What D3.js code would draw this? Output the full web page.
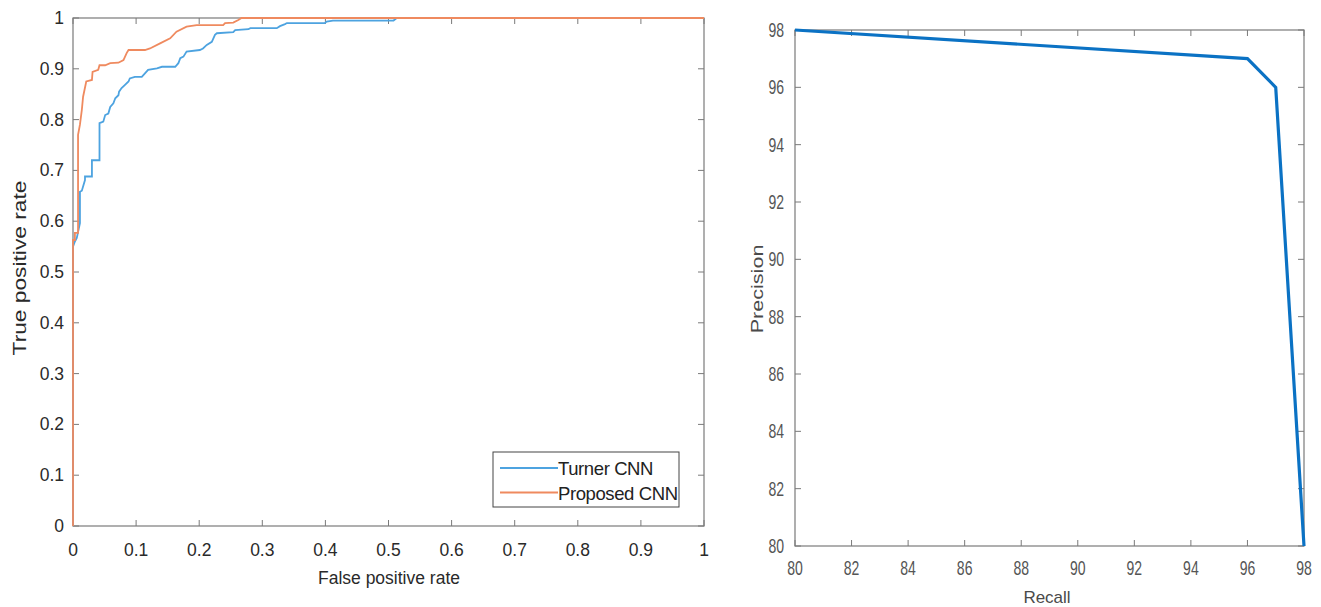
<!DOCTYPE html>
<html>
<head>
<meta charset="utf-8">
<script src="https://cdn.jsdelivr.net/npm/d3@7"></script>
<style>
  html, body { margin: 0; padding: 0; background: #fff; }
  svg { display: block; }
</style>
</head>
<body>
<svg id="chart" width="1321" height="607"></svg>
<script>
// ---------- DATA ----------
const rocTicks = [0, 0.1, 0.2, 0.3, 0.4, 0.5, 0.6, 0.7, 0.8, 0.9, 1];
const rocTickLabels = ["0", "0.1", "0.2", "0.3", "0.4", "0.5", "0.6", "0.7", "0.8", "0.9", "1"];
const seriesNames = ["Turner CNN", "Proposed CNN"];

// [false positive rate, true positive rate]
const turnerRoc = [
  [0, 0], [0, 0.55], [0.003, 0.56], [0.006, 0.567], [0.011, 0.596], [0.011, 0.658],
  [0.014, 0.66], [0.019, 0.681], [0.019, 0.688], [0.030, 0.688], [0.030, 0.72],
  [0.042, 0.72], [0.042, 0.793], [0.048, 0.796], [0.051, 0.809], [0.056, 0.812],
  [0.059, 0.825], [0.064, 0.832], [0.067, 0.842], [0.072, 0.848], [0.073, 0.855],
  [0.077, 0.862], [0.082, 0.868], [0.088, 0.875], [0.090, 0.881], [0.098, 0.884],
  [0.109, 0.884], [0.114, 0.891], [0.119, 0.898], [0.133, 0.901], [0.141, 0.904],
  [0.162, 0.904], [0.167, 0.911], [0.170, 0.921], [0.175, 0.924], [0.180, 0.934],
  [0.201, 0.937], [0.206, 0.940], [0.212, 0.947], [0.220, 0.953], [0.225, 0.967],
  [0.228, 0.970], [0.254, 0.972], [0.257, 0.976], [0.278, 0.978], [0.281, 0.980],
  [0.323, 0.980], [0.328, 0.984], [0.336, 0.988], [0.339, 0.990], [0.399, 0.990],
  [0.402, 0.993], [0.412, 0.995], [0.508, 0.995], [0.513, 1.0], [1, 1.0]
];
const proposedRoc = [
  [0, 0], [0, 0.563], [0.003, 0.563], [0.003, 0.577], [0.008, 0.577], [0.008, 0.77],
  [0.011, 0.79], [0.014, 0.819], [0.016, 0.845], [0.021, 0.875], [0.030, 0.878],
  [0.031, 0.894], [0.040, 0.898], [0.042, 0.907], [0.051, 0.907], [0.059, 0.911],
  [0.072, 0.912], [0.080, 0.917], [0.085, 0.931], [0.088, 0.937], [0.114, 0.937],
  [0.122, 0.940], [0.138, 0.950], [0.154, 0.960], [0.164, 0.973], [0.180, 0.983],
  [0.196, 0.986], [0.238, 0.986], [0.241, 0.990], [0.254, 0.991], [0.262, 0.996],
  [0.267, 1.0], [1, 1.0]
];

const prTicks = [80, 82, 84, 86, 88, 90, 92, 94, 96, 98];
const recall =    [80, 96, 97, 98];
const precision = [98, 97, 96, 80];

// ---------- DRAW ----------
const svg = d3.select("#chart");
const axisColor = "#7a7a7a";
const colors = { turner: "#4DA3E0", proposed: "#EF8A5F", pr: "#0B72C4" };

function drawBoxAxes(g, x, y, xTicks, yTicks) {
  const [xl, xr] = x.range();
  const [yb, yt] = y.range();
  const tl = 6;
  g.append("rect").attr("x", xl).attr("y", yt).attr("width", xr - xl).attr("height", yb - yt)
    .attr("fill", "none").attr("stroke", axisColor).attr("stroke-width", 1.2);
  xTicks.forEach(t => {
    const px = x(t);
    g.append("line").attr("x1", px).attr("x2", px).attr("y1", yb).attr("y2", yb - tl).attr("stroke", axisColor);
    g.append("line").attr("x1", px).attr("x2", px).attr("y1", yt).attr("y2", yt + tl).attr("stroke", axisColor);
  });
  yTicks.forEach(t => {
    const py = y(t);
    g.append("line").attr("x1", xl).attr("x2", xl + tl).attr("y1", py).attr("y2", py).attr("stroke", axisColor);
    g.append("line").attr("x1", xr).attr("x2", xr - tl).attr("y1", py).attr("y2", py).attr("stroke", axisColor);
  });
}

// ---- Left: ROC ----
const xL = d3.scaleLinear().domain([0, 1]).range([73, 704]);
const yL = d3.scaleLinear().domain([0, 1]).range([526, 18]);
const gL = svg.append("g");
const fontL = "'Liberation Sans', Arial, sans-serif";

drawBoxAxes(gL, xL, yL, rocTicks, rocTicks);

const lineL = d3.line().x(d => xL(d[0])).y(d => yL(d[1]));
gL.append("path").datum(turnerRoc).attr("d", lineL)
  .attr("fill", "none").attr("stroke", colors.turner).attr("stroke-width", 1.8);
gL.append("path").datum(proposedRoc).attr("d", lineL)
  .attr("fill", "none").attr("stroke", colors.proposed).attr("stroke-width", 1.8);

// tick labels
gL.selectAll(".xt").data(rocTicks).enter().append("text")
  .attr("x", d => xL(d)).attr("y", 556).attr("text-anchor", "middle")
  .attr("font-family", fontL).attr("font-size", 17.5).attr("fill", "#2a2a2a")
  .text((d, i) => rocTickLabels[i]);
gL.selectAll(".yt").data(rocTicks).enter().append("text")
  .attr("x", 64).attr("y", d => yL(d) + 6).attr("text-anchor", "end")
  .attr("font-family", fontL).attr("font-size", 17.5).attr("fill", "#2a2a2a")
  .text((d, i) => rocTickLabels[i]);

gL.append("text").attr("x", 389).attr("y", 584).attr("text-anchor", "middle")
  .attr("font-family", fontL).attr("font-size", 17.5).attr("fill", "#2a2a2a").text("False positive rate");
gL.append("text").attr("transform", "translate(26,268) rotate(-90) scale(1.3,1)").attr("text-anchor", "middle")
  .attr("font-family", fontL).attr("font-size", 17.5).attr("fill", "#2a2a2a").text("True positive rate");

// legend
const leg = gL.append("g");
leg.append("rect").attr("x", 493).attr("y", 452).attr("width", 186).attr("height", 55)
  .attr("fill", "#fff").attr("stroke", "#444").attr("stroke-width", 1);
const legColors = [colors.turner, colors.proposed];
seriesNames.forEach((name, i) => {
  const cy = 468 + i * 24.5;
  leg.append("line").attr("x1", 500).attr("x2", 558).attr("y1", cy).attr("y2", cy)
    .attr("stroke", legColors[i]).attr("stroke-width", 1.8);
  leg.append("text").attr("x", 558).attr("y", cy + 7)
    .attr("font-family", fontL).attr("font-size", 18.5).attr("letter-spacing", -0.4).attr("fill", "#222").text(name);
});

// ---- Right: Precision / Recall ----
const xR = d3.scaleLinear().domain([80, 98]).range([795, 1304]);
const yR = d3.scaleLinear().domain([80, 98]).range([546, 30]);
const gR = svg.append("g");
const fontR = "'Liberation Sans', Arial, sans-serif";

drawBoxAxes(gR, xR, yR, prTicks, prTicks);

const prData = recall.map((r, i) => [r, precision[i]]);
gR.append("path").datum(prData)
  .attr("d", d3.line().x(d => xR(d[0])).y(d => yR(d[1])))
  .attr("fill", "none").attr("stroke", colors.pr).attr("stroke-width", 3.2).attr("stroke-linejoin", "miter");

gR.selectAll(".xt").data(prTicks).enter().append("text")
  .attr("transform", d => `translate(${xR(d)},575) scale(0.72,1)`).attr("text-anchor", "middle")
  .attr("font-family", fontR).attr("font-size", 19.5).attr("fill", "#555").text(d => d);
gR.selectAll(".yt").data(prTicks).enter().append("text")
  .attr("transform", d => `translate(784,${yR(d) + 7}) scale(0.72,1)`).attr("text-anchor", "end")
  .attr("font-family", fontR).attr("font-size", 19.5).attr("fill", "#555").text(d => d);

gR.append("text").attr("x", 1047).attr("y", 603).attr("text-anchor", "middle")
  .attr("font-family", fontR).attr("font-size", 17).attr("fill", "#4a4a4a").text("Recall");
gR.append("text").attr("transform", "translate(763,289) rotate(-90) scale(1.27,1)").attr("text-anchor", "middle")
  .attr("font-family", fontR).attr("font-size", 17).attr("fill", "#4a4a4a").text("Precision");
</script>
</body>
</html>
